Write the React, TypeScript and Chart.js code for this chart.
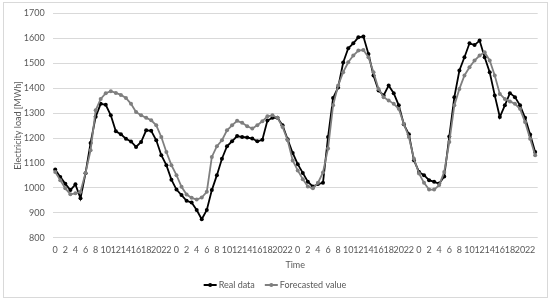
import { useEffect, useRef } from "react";
import { Chart, registerables } from "chart.js";

Chart.register(...registerables);

const dayHours = [0, 1, 2, 3, 4, 5, 6, 7, 8, 9, 10, 11, 12, 13, 14, 15, 16, 17, 18, 19, 20, 21, 22, 23];
const categories = [...dayHours, ...dayHours, ...dayHours, ...dayHours].map(String);

const realData = [
  1074, 1044, 1016, 991, 1014, 958, 1059, 1180, 1285, 1337, 1333, 1291, 1227, 1215, 1197, 1186, 1164, 1184, 1231, 1229, 1191, 1131, 1091, 1033,
  993, 971, 948, 941, 911, 874, 911, 991, 1051, 1117, 1167, 1187, 1208, 1204, 1202, 1198, 1187, 1193, 1270, 1281, 1281, 1251, 1195, 1140,
  1095, 1060, 1025, 1005, 1015, 1020, 1204, 1361, 1403, 1503, 1560, 1580, 1604, 1607, 1537, 1451, 1391, 1371, 1411, 1380, 1331, 1255, 1215, 1111,
  1064, 1051, 1031, 1024, 1017, 1046, 1206, 1364, 1471, 1524, 1580, 1573, 1591, 1524, 1464, 1371, 1284, 1331, 1380, 1364, 1331, 1281, 1214, 1144,
];

const forecastData = [
  1064, 1031, 998, 974, 978, 984, 1060, 1151, 1311, 1357, 1380, 1388, 1381, 1373, 1361, 1337, 1304, 1291, 1281, 1271, 1251, 1204, 1144, 1091,
  1051, 1004, 973, 960, 953, 961, 984, 1124, 1167, 1191, 1231, 1251, 1269, 1261, 1247, 1238, 1251, 1267, 1287, 1291, 1281, 1244, 1191, 1110,
  1070, 1035, 1005, 998, 1020, 1062, 1158, 1331, 1411, 1464, 1504, 1531, 1551, 1553, 1524, 1464, 1397, 1364, 1351, 1337, 1317, 1257, 1204, 1117,
  1058, 1020, 993, 993, 1011, 1064, 1184, 1331, 1397, 1451, 1484, 1511, 1531, 1544, 1511, 1451, 1377, 1357, 1347, 1337, 1317, 1264, 1197, 1131,
];

const seriesNames = ["Real data", "Forecasted value"];
const seriesColors = ["#000000", "#7f7f7f"];

const FONT_FAMILY = "Lato, 'Open Sans', sans-serif";
const TEXT_COLOR = "#595959";

const frameAndLegend = {
  id: "frameAndLegend",
  beforeDraw(chart: any) {
    const { ctx, width, height } = chart;
    ctx.save();
    ctx.fillStyle = "#ffffff";
    ctx.fillRect(0, 0, width, height);
    ctx.strokeStyle = "#d9d9d9";
    ctx.lineWidth = 1;
    ctx.strokeRect(3.5, 2.5, 544, 295);
    ctx.restore();
  },
  afterDraw(chart: any) {
    const { ctx } = chart;
    ctx.save();
    ctx.font = `9px ${FONT_FAMILY}`;
    ctx.textBaseline = "middle";
    ctx.textAlign = "left";
    const lineLen = 13;
    const gapText = 2;
    const gapItems = 10;
    const widths = seriesNames.map((n) => ctx.measureText(n).width);
    const total = widths.reduce((a, w) => a + lineLen + gapText + w, 0) + gapItems;
    let x = 275 - total / 2;
    const y = 285;
    seriesNames.forEach((name, i) => {
      ctx.strokeStyle = seriesColors[i];
      ctx.fillStyle = seriesColors[i];
      ctx.lineWidth = 2;
      ctx.beginPath();
      ctx.moveTo(x, y);
      ctx.lineTo(x + lineLen, y);
      ctx.stroke();
      ctx.beginPath();
      ctx.arc(x + lineLen / 2, y, 2, 0, Math.PI * 2);
      ctx.fill();
      ctx.fillStyle = TEXT_COLOR;
      ctx.fillText(name, x + lineLen + gapText, y);
      x += lineLen + gapText + widths[i] + gapItems;
    });
    ctx.restore();
  },
};

export default function App() {
  const canvasRef = useRef<HTMLCanvasElement | null>(null);

  useEffect(() => {
    document.body.style.margin = "0";
    const canvas = canvasRef.current;
    if (!canvas) return;
    const chart = new Chart(canvas, {
      type: "line",
      data: {
        labels: categories,
        datasets: [
          {
            label: seriesNames[0],
            data: realData,
            borderColor: seriesColors[0],
            backgroundColor: seriesColors[0],
            borderWidth: 1.8,
            pointRadius: 2,
            pointBorderWidth: 0,
            pointBackgroundColor: seriesColors[0],
            tension: 0,
            order: 1,
          },
          {
            label: seriesNames[1],
            data: forecastData,
            borderColor: seriesColors[1],
            backgroundColor: seriesColors[1],
            borderWidth: 1.8,
            pointRadius: 2,
            pointBorderWidth: 0,
            pointBackgroundColor: seriesColors[1],
            tension: 0,
            order: 0,
          },
        ],
      },
      options: {
        responsive: false,
        animation: false,
        devicePixelRatio: 1,
        layout: { padding: { left: 0, right: 12.3, top: 12.7, bottom: 27 } },
        plugins: {
          legend: { display: false },
          tooltip: { enabled: false },
        },
        scales: {
          x: {
            type: "category",
            offset: true,
            grid: { display: false, drawTicks: false },
            border: { display: false },
            ticks: {
              autoSkip: false,
              maxRotation: 0,
              minRotation: 0,
              padding: 7,
              color: TEXT_COLOR,
              font: { family: FONT_FAMILY, size: 9 },
              callback: (_v: any, idx: number) => (idx % 2 === 0 ? categories[idx] : ""),
            },
            title: {
              display: true,
              text: "Time",
              color: TEXT_COLOR,
              font: { family: FONT_FAMILY, size: 9 },
              padding: { top: 0, bottom: 4 },
            },
            afterFit: (scale: any) => {
              scale.height = 36.3;
            },
          },
          y: {
            min: 800,
            max: 1700,
            grid: { color: "#d9d9d9", lineWidth: 1, drawTicks: false },
            border: { display: false },
            ticks: {
              stepSize: 100,
              padding: 8,
              color: TEXT_COLOR,
              font: { family: FONT_FAMILY, size: 9 },
              callback: (v: any) => String(v),
            },
            title: {
              display: true,
              text: "Electricity load [MWh]",
              color: TEXT_COLOR,
              font: { family: FONT_FAMILY, size: 9 },
              padding: { top: 12.8, bottom: 0 },
            },
            afterFit: (scale: any) => {
              scale.width = 52.7;
            },
          },
        },
      },
      plugins: [frameAndLegend],
    });
    return () => chart.destroy();
  }, []);

  return <canvas ref={canvasRef} width={550} height={301} style={{ display: "block", width: 550, height: 301 }} />;
}
